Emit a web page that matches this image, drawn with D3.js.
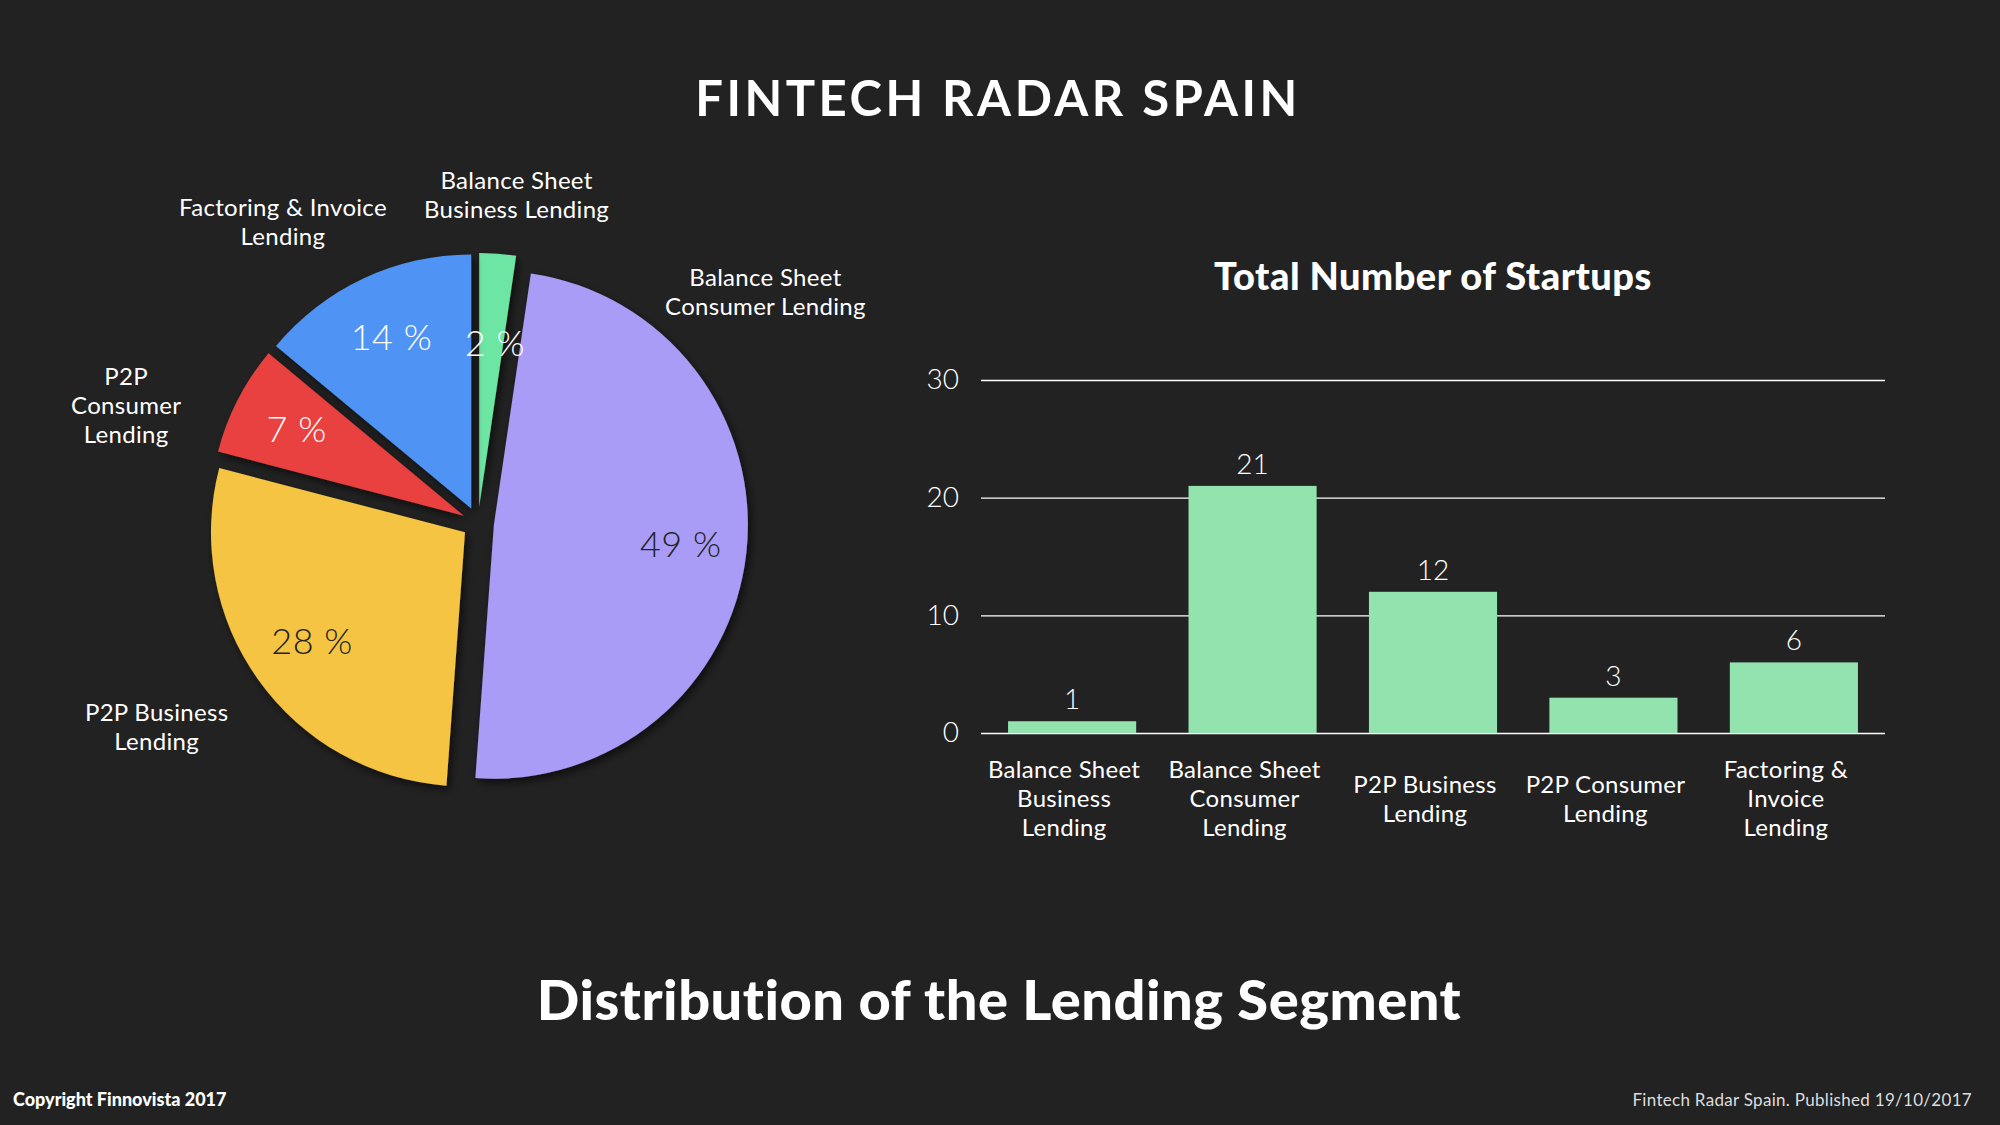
<!DOCTYPE html>
<html lang="en">
<head>
  <meta charset="utf-8">
  <title>Fintech Radar Spain</title>
  <script src="https://cdnjs.cloudflare.com/ajax/libs/d3/7.8.5/d3.min.js"></script>
  <style>
    body { margin: 0; background: #222222; }
    svg { display: block; font-family: Lato, "Open Sans", sans-serif; }
  </style>
</head>
<body>
<svg id="chart" width="2000" height="1125"></svg>
<script>
// data
var categories = ["Balance Sheet Business Lending", "Balance Sheet Consumer Lending",
                  "P2P Business Lending", "P2P Consumer Lending", "Factoring & Invoice Lending"];
var startups = [1, 21, 12, 3, 6];
var barLabels = [["Balance Sheet", "Business", "Lending"], ["Balance Sheet", "Consumer", "Lending"],
                 ["P2P Business", "Lending"], ["P2P Consumer", "Lending"], ["Factoring &", "Invoice", "Lending"]];
var pieLabels = [["Balance Sheet", "Business Lending"], ["Balance Sheet", "Consumer Lending"],
                 ["P2P Business", "Lending"], ["P2P", "Consumer", "Lending"], ["Factoring & Invoice", "Lending"]];
var pieColors = ["#6de6a3", "#a99cf6", "#f5c443", "#e94141", "#4f94f4"];
var yTicks = [0, 10, 20, 30];

var svg = d3.select("#chart");
svg.append("rect").attr("width", 2000).attr("height", 1125).attr("fill", "#222222");

svg.append("text").attr("x", 998).attr("y", 116).attr("text-anchor", "middle")
  .attr("fill", "#fff").attr("font-size", 49).attr("font-weight", 700).attr("letter-spacing", 3.5)
  .text("FINTECH RADAR SPAIN");
svg.append("text").attr("x", 999).attr("y", 1020).attr("text-anchor", "middle")
  .attr("fill", "#fff").attr("font-size", 56).attr("font-weight", 900).attr("letter-spacing", 0.5)
  .text("Distribution of the Lending Segment");
svg.append("text").attr("x", 13).attr("y", 1106).attr("fill", "#fff")
  .attr("font-size", 18).attr("font-weight", 900).text("Copyright Finnovista 2017");
svg.append("text").attr("x", 1972).attr("y", 1106).attr("text-anchor", "end").attr("fill", "#ddd")
  .attr("font-size", 17).attr("letter-spacing", 0.3).text("Fintech Radar Spain. Published 19/10/2017");

// pie
var defs = svg.append("defs");
var f = defs.append("filter").attr("id", "shadow").attr("x", "-20%").attr("y", "-20%")
  .attr("width", "140%").attr("height", "140%");
f.append("feDropShadow").attr("dx", 3).attr("dy", 4).attr("stdDeviation", 4)
  .attr("flood-color", "#000").attr("flood-opacity", 0.6);

var cx = 478, cy = 523, r = 254, explode = 16;
var total = d3.sum(startups);
var pie = d3.pie().sort(null)(startups);
var arc = d3.arc().innerRadius(0).outerRadius(r);
var pctArc = d3.arc().innerRadius(r * 0.74).outerRadius(r * 0.74);
var g = svg.append("g").attr("transform", "translate(" + cx + "," + cy + ")");
// label placement angle (deg from top) and distance factor
var labelAngle = [6.7, 51.3, 237.5, 288.4, 327];
var labelDist = [1.30, 1.45, 1.50, 1.46, 1.41];

pie.forEach(function(d, i) {
  var mid = (d.startAngle + d.endAngle) / 2;
  var ox = Math.sin(mid) * explode, oy = -Math.cos(mid) * explode;
  g.append("path").attr("transform", "translate(" + ox + "," + oy + ")")
    .attr("d", arc(d)).attr("fill", pieColors[i]).attr("filter", "url(#shadow)");
});
pie.forEach(function(d, i) {
  var mid = (d.startAngle + d.endAngle) / 2;
  var ox = Math.sin(mid) * explode, oy = -Math.cos(mid) * explode;
  var c = pctArc.centroid(d);
  if (i === 0) c = [c[0] + 2, c[1] + 24];
  g.append("text").attr("x", c[0] + ox).attr("y", c[1] + oy + 12).attr("text-anchor", "middle")
    .attr("fill", i === 1 || i === 2 ? "#222" : "#fff").attr("font-size", 36).attr("font-weight", 300)
    .attr("letter-spacing", 0.5)
    .text(Math.round(d.data / total * 100) + " %");
  var a = labelAngle[i] * Math.PI / 180, ld = labelDist[i] * r;
  var lx = Math.sin(a) * ld, ly = -Math.cos(a) * ld;
  var lines = pieLabels[i];
  var t = g.append("text").attr("text-anchor", "middle").attr("fill", "#fff").attr("font-size", 24)
    .attr("letter-spacing", 0.3);
  lines.forEach(function(l, k) {
    t.append("tspan").attr("x", lx).attr("y", ly + (k - (lines.length - 1) / 2) * 29 + 8).text(l);
  });
});

// bar chart
var bx0 = 981, bx1 = 1885, by0 = 733, by1 = 380;
svg.append("text").attr("x", 1433).attr("y", 290).attr("text-anchor", "middle").attr("fill", "#fff")
  .attr("font-size", 38).attr("font-weight", 900).attr("letter-spacing", 0.5).text("Total Number of Startups");
var x = d3.scaleBand().domain(categories).range([bx0, bx1]).paddingInner(0.29).paddingOuter(0.15);
var y = d3.scaleLinear().domain([0, 30]).range([by0, by1]);

var yAxis = svg.append("g").attr("transform", "translate(" + bx0 + ",0)")
  .call(d3.axisLeft(y).tickValues(yTicks).tickSize(-(bx1 - bx0)).tickPadding(22));
yAxis.select(".domain").remove();
yAxis.selectAll("line").attr("stroke", "#fff").attr("stroke-width", 1.3);
yAxis.selectAll("text").attr("fill", "#fff").attr("font-size", 28).attr("font-family", "Lato").attr("font-weight", 300);

svg.selectAll(".bar").data(startups).enter().append("rect")
  .attr("x", function(d, i) { return x(categories[i]); })
  .attr("y", function(d) { return y(d); })
  .attr("width", x.bandwidth())
  .attr("height", function(d) { return by0 - y(d); })
  .attr("fill", "#93e3af");
svg.selectAll(".val").data(startups).enter().append("text")
  .attr("x", function(d, i) { return x(categories[i]) + x.bandwidth() / 2; })
  .attr("y", function(d) { return y(d) - 12; })
  .attr("text-anchor", "middle").attr("fill", "#fff").attr("font-size", 28).attr("font-weight", 300)
  .text(function(d) { return d; });
barLabels.forEach(function(lines, i) {
  var t = svg.append("text").attr("text-anchor", "middle").attr("fill", "#fff").attr("font-size", 24)
    .attr("letter-spacing", 0.3);
  var xc = x(categories[i]) + x.bandwidth() / 2 - 8;
  lines.forEach(function(l, k) {
    var base = lines.length === 3 ? 778 : 793;
    t.append("tspan").attr("x", xc).attr("y", base + k * 29).text(l);
  });
});
</script>
</body>
</html>
